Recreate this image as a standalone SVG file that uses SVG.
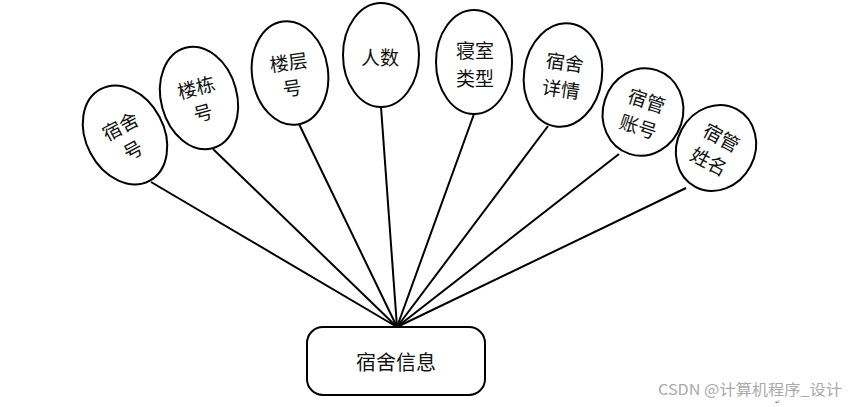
<svg xmlns="http://www.w3.org/2000/svg" width="851" height="407" viewBox="0 0 851 407">
<style>
.e{fill:#fff;stroke:#000;stroke-width:2}
.t{font-family:"Noto Sans CJK SC","Noto Sans",sans-serif;font-size:19px;fill:#111;text-anchor:middle;dominant-baseline:central}
.c{stroke:#000;stroke-width:2;fill:none}
</style>
<rect width="851" height="407" fill="#fff"/>
<g id="connectors">
<line class="c" x1="397" y1="327" x2="151" y2="182"/>
<line class="c" x1="397" y1="327" x2="213" y2="149"/>
<line class="c" x1="397" y1="327" x2="299" y2="124"/>
<line class="c" x1="397" y1="327" x2="381" y2="107"/>
<line class="c" x1="397" y1="327" x2="474" y2="114"/>
<line class="c" x1="397" y1="327" x2="548" y2="126"/>
<line class="c" x1="397" y1="327" x2="619" y2="154"/>
<line class="c" x1="397" y1="327" x2="686" y2="188"/>
</g>
<g id="n1" transform="translate(125,135) rotate(-28)">
<ellipse class="e" cx="0" cy="0" rx="39" ry="52"/>
<text class="t" x="0" y="-11">宿舍</text>
<text class="t" x="0" y="16">号</text>
</g>
<g id="n2" transform="translate(199,98) rotate(-15)">
<ellipse class="e" cx="0" cy="0" rx="38" ry="52"/>
<text class="t" x="0" y="-12">楼栋</text>
<text class="t" x="0" y="14">号</text>
</g>
<g id="n3" transform="translate(290,73) rotate(-8)">
<ellipse class="e" cx="0" cy="0" rx="38" ry="52"/>
<text class="t" x="0" y="-12">楼层</text>
<text class="t" x="0" y="14">号</text>
</g>
<g id="n4">
<ellipse class="e" cx="381" cy="55" rx="38" ry="52"/>
<text class="t" x="380" y="56">人数</text>
</g>
<g id="n5">
<ellipse class="e" cx="474" cy="62" rx="38" ry="52"/>
<text class="t" x="475" y="49">寝室</text>
<text class="t" x="475" y="77">类型</text>
</g>
<g id="n6" transform="translate(563,75) rotate(8)">
<ellipse class="e" cx="0" cy="0" rx="39" ry="52"/>
<text class="t" x="0" y="-14">宿舍</text>
<text class="t" x="0" y="13">详情</text>
</g>
<g id="n7" transform="translate(643,112) rotate(18)">
<ellipse class="e" cx="0" cy="0" rx="40" ry="44"/>
<text class="t" x="0" y="-13">宿管</text>
<text class="t" x="0" y="14">账号</text>
</g>
<g id="n8" transform="translate(716,148) rotate(28)">
<ellipse class="e" cx="0" cy="0" rx="39" ry="44"/>
<text class="t" x="0" y="-13">宿管</text>
<text class="t" x="0" y="14">姓名</text>
</g>
<g id="main">
<rect x="307" y="327" width="178" height="68" rx="16" ry="16" fill="#fff" stroke="#000" stroke-width="2"/>
<text class="t" x="396" y="361" style="font-size:20px">宿舍信息</text>
</g>
<text x="658" y="395" font-family="'Noto Sans CJK SC','Noto Sans',sans-serif" font-size="15" fill="#aaa" textLength="184" lengthAdjust="spacingAndGlyphs">CSDN @计算机程序_设计</text>
<text x="775" y="404" font-family="'DejaVu Sans',sans-serif" font-size="6" fill="#666">↵</text>
</svg>
